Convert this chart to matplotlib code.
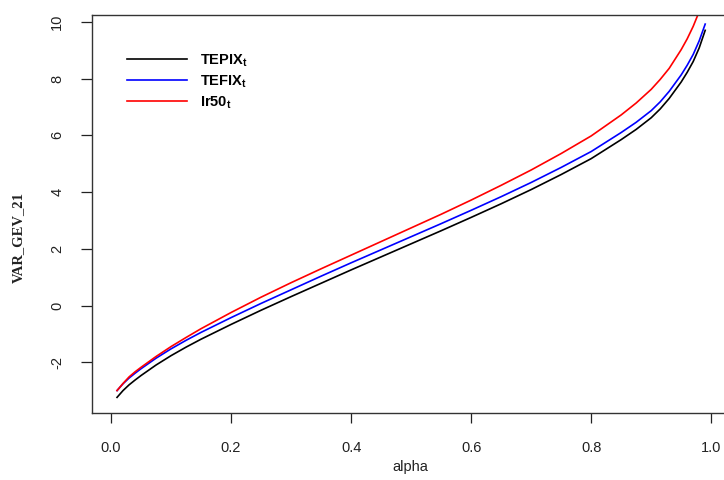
import numpy as np
import matplotlib
matplotlib.use("Agg")
import matplotlib.pyplot as plt

# values
alpha = [0.01, 0.02, 0.03, 0.04, 0.05, 0.075, 0.1, 0.125, 0.15, 0.2, 0.25, 0.3, 0.35, 0.4, 0.45,
         0.5, 0.55, 0.6, 0.65, 0.7, 0.75, 0.8, 0.85, 0.875, 0.9, 0.915, 0.93, 0.95, 0.96, 0.97,
         0.98, 0.99]
tepix = [-3.23, -2.99, -2.79, -2.62, -2.46, -2.09, -1.76, -1.46, -1.18, -0.66, -0.16, 0.32, 0.79,
         1.26, 1.72, 2.18, 2.64, 3.11, 3.59, 4.09, 4.62, 5.18, 5.85, 6.21, 6.62, 6.93, 7.30,
         7.88, 8.22, 8.60, 9.08, 9.70]
tefix = [-2.99, -2.75, -2.55, -2.38, -2.22, -1.85, -1.52, -1.22, -0.94, -0.42, 0.08, 0.56, 1.04,
         1.51, 1.97, 2.43, 2.89, 3.36, 3.84, 4.34, 4.87, 5.43, 6.10, 6.46, 6.87, 7.18, 7.55,
         8.13, 8.47, 8.85, 9.33, 9.92]
ir50 = [-2.99, -2.74, -2.51, -2.33, -2.17, -1.79, -1.44, -1.12, -0.81, -0.24, 0.30, 0.81, 1.30,
        1.78, 2.26, 2.74, 3.22, 3.72, 4.24, 4.78, 5.36, 5.98, 6.72, 7.14, 7.62, 7.97, 8.36,
        9.02, 9.40, 9.84, 10.36, 11.00]

x_ticks = [0.0, 0.2, 0.4, 0.6, 0.8, 1.0]
y_ticks = [-2, 0, 2, 4, 6, 8, 10]

plt.rcParams['font.family'] = ['Liberation Sans', 'DejaVu Sans']
plt.rcParams['mathtext.fontset'] = 'custom'
plt.rcParams['mathtext.bf'] = 'Liberation Sans:bold'
plt.rcParams['mathtext.rm'] = 'Liberation Sans'

fig = plt.figure(figsize=(7.24, 4.8), dpi=100)
# axes box runs a little past the right edge, like the cropped original
ax = fig.add_axes([92/724, 1 - 413/480, (728 - 92)/724, (413 - 15)/480])

ax.plot(alpha, tepix, color="#000000", lw=1.2, label=r"TEPIX$_\mathbf{t}$")
ax.plot(alpha, tefix, color="#0000ff", lw=1.2, label=r"TEFIX$_\mathbf{t}$")
ax.plot(alpha, ir50, color="#ff0000", lw=1.2, label=r"Ir50$_\mathbf{t}$")

ax.set_xlim(-0.0317, 1.028)
ax.set_ylim(-3.78, 10.24)
ax.set_xticks(x_ticks)
ax.set_xticklabels(["0.0", "0.2", "0.4", "0.6", "0.8", "1.0"])
ax.set_yticks(y_ticks)
ax.set_yticklabels([str(v) for v in y_ticks], rotation=90, va="center")

ax.tick_params(axis="x", direction="out", length=7, width=0.9, pad=13.5, labelsize=10.5, colors="#222222")
ax.tick_params(axis="y", direction="out", length=8, width=0.9, pad=12, labelsize=10.5, colors="#222222")
for s in ax.spines.values():
    s.set_color("#333333")
    s.set_linewidth(1.0)

ax.set_xlabel("alpha", fontsize=10.5, color="#222222")
ax.xaxis.set_label_coords(0.5, -0.118)
ax.set_ylabel("VAR_GEV_21", fontsize=10.5, fontweight="bold",
              family=["Liberation Serif", "DejaVu Serif"], color="#222222")
ax.yaxis.set_label_coords(-0.105, 0.44)

leg = ax.legend(loc="upper left", bbox_to_anchor=(0.035, 0.94), frameon=False,
                handlelength=4.1, handletextpad=0.85, labelspacing=0.3,
                prop={"weight": "bold", "size": 10.5})

fig.savefig("out.png", dpi=100)
